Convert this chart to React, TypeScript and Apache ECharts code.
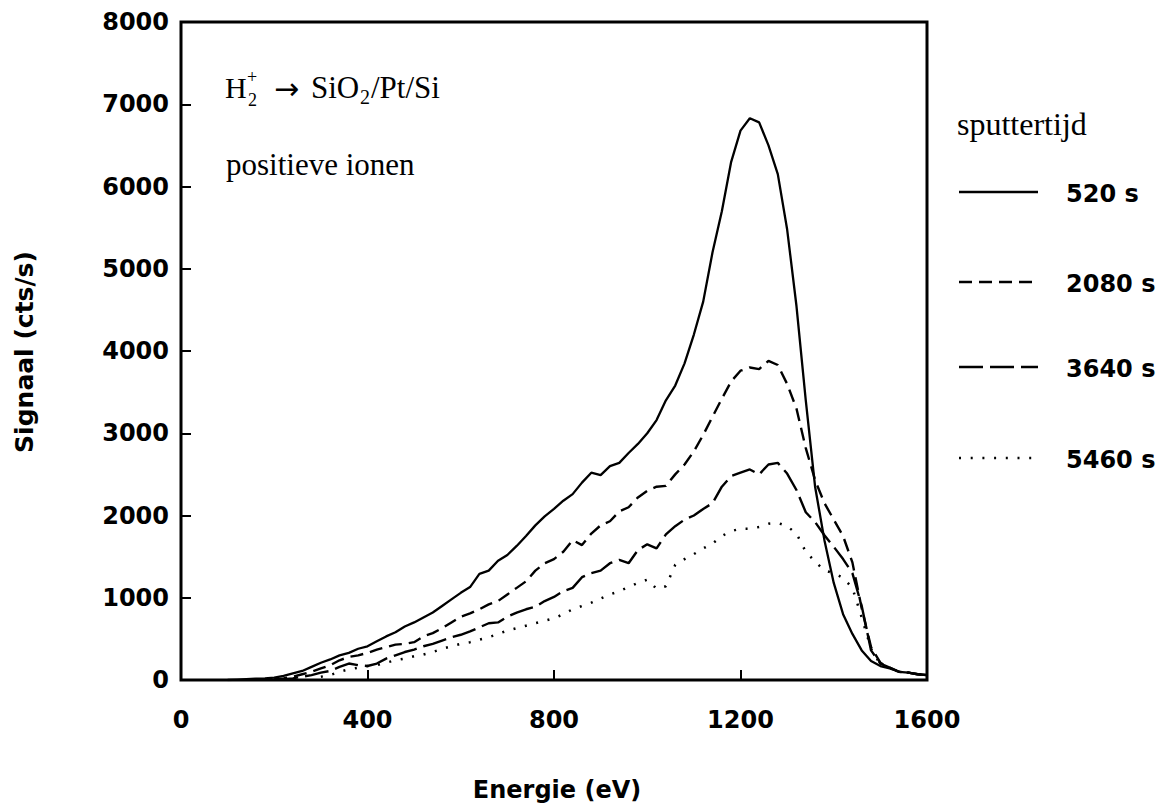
import React, { useEffect, useRef } from "react";
import * as echarts from "echarts";

const energies = [
  100, 120, 140, 160, 180, 200, 220, 240, 260, 280,
  300, 320, 340, 360, 380, 400, 420, 440, 460, 480,
  500, 520, 540, 560, 580, 600, 620, 640, 660, 680,
  700, 720, 740, 760, 780, 800, 820, 840, 860, 880,
  900, 920, 940, 960, 980, 1000, 1020, 1040, 1060, 1080,
  1100, 1120, 1140, 1160, 1180, 1200, 1220, 1240, 1260, 1280,
  1300, 1320, 1340, 1360, 1380, 1400, 1420, 1440, 1460, 1480,
  1500, 1520, 1540, 1560, 1580, 1600,
];

const s520 = [
  0, 5, 10, 15, 20, 30, 50, 80, 110, 160,
  210, 250, 300, 330, 380, 410, 470, 530, 580, 650,
  700, 760, 820, 900, 980, 1060, 1130, 1290, 1330, 1450,
  1520, 1630, 1750, 1880, 1990, 2080, 2180, 2260, 2400, 2520,
  2490, 2600, 2640, 2760, 2870, 3000, 3160, 3400, 3580, 3850,
  4200, 4600, 5200, 5700, 6300, 6680, 6830, 6780, 6500, 6150,
  5480, 4550, 3400, 2350, 1700, 1180, 800, 560, 360, 230,
  170, 140, 100, 90, 70, 60,
];

const s2080 = [
  null, null, null, null, null, 10, 20, 40, 70, 100,
  140, 180, 240, 280, 300, 330, 370, 400, 430, 440,
  460, 530, 570, 630, 700, 770, 810, 860, 920, 960,
  1040, 1120, 1200, 1330, 1420, 1470, 1560, 1700, 1640, 1780,
  1880, 1930, 2050, 2100, 2220, 2300, 2350, 2360, 2500, 2620,
  2780, 2980, 3200, 3420, 3630, 3760, 3800, 3780, 3880, 3830,
  3600, 3300, 2820, 2430, 2150, 1950, 1750, 1430, 870, 400,
  210, 150, 100, 90, 70, 60,
];

const s3640 = [
  null, null, null, null, null, 5, 10, 20, 40, 60,
  90, 110, 160, 200, 180, 170, 200, 260, 300, 340,
  370, 410, 440, 480, 520, 550, 590, 640, 690, 700,
  770, 820, 860, 890, 960, 1010, 1080, 1120, 1250, 1300,
  1330, 1420, 1460, 1420, 1580, 1650, 1600, 1770, 1870, 1950,
  2000, 2080, 2150, 2350, 2480, 2520, 2560, 2500, 2620, 2640,
  2510, 2310, 2040, 1920, 1760, 1620, 1470, 1300, 900, 360,
  200, 150, 100, 90, 70, 60,
];

const s5460 = [
  null, null, null, null, null, null, null, null, null, null,
  40, 60, 100, 130, 150, 170, 180, 210, 240, 260,
  290, 310, 340, 380, 410, 440, 460, 490, 520, 560,
  600, 630, 660, 690, 720, 750, 800, 860, 900, 940,
  990, 1040, 1080, 1130, 1180, 1220, 1110, 1140, 1400, 1470,
  1530, 1600, 1660, 1750, 1810, 1840, 1840, 1860, 1900, 1910,
  1870, 1780, 1560, 1440, 1330, 1300, 1240, 1120, 760, 380,
  190, 140, 100, 90, 70, 60,
];

const seriesNames = ["520 s", "2080 s", "3640 s", "5460 s"];
const seriesValues = [s520, s2080, s3640, s5460];
const dashes: (string | number[])[] = ["solid", [13, 7], [24, 7], [2, 9.7]];
const widths = [2.3, 2.4, 2.4, 2.5];
const legendY = [192, 282, 367, 458];

const SANS = "DejaVu Sans";
const SERIF = "Liberation Serif";

export default function App() {
  const ref = useRef<HTMLDivElement>(null);
  useEffect(() => {
    if (!ref.current) return;
    const chart = echarts.init(ref.current, undefined, { renderer: "svg" });

    const series = seriesValues.map((vals, k) => ({
      name: seriesNames[k],
      type: "line",
      data: energies.map((e, i) => [e, vals[i]]),
      showSymbol: false,
      connectNulls: false,
      lineStyle: { color: "#000", width: widths[k], type: dashes[k] },
      z: 3,
    }));

    const legendGraphics: any[] = [];
    seriesNames.forEach((n, k) => {
      legendGraphics.push({
        type: "line",
        shape: { x1: 959, y1: legendY[k], x2: 1038, y2: legendY[k] },
        style: {
          stroke: "#000",
          lineWidth: widths[k],
          lineDash: typeof dashes[k] === "string" ? null : dashes[k],
        },
      });
      legendGraphics.push({
        type: "text",
        x: 1066,
        y: legendY[k] + 2,
        style: {
          text: n,
          fontFamily: SANS,
          fontWeight: "bold",
          fontSize: 24,
          fill: "#000",
          align: "left",
          verticalAlign: "middle",
        },
      });
    });

    const serifText = (text: string, x: number, y: number, size: number, family = SERIF) => ({
      type: "text",
      x,
      y,
      style: {
        text,
        fontFamily: family,
        fontSize: size,
        fill: "#000",
        align: "left",
        verticalAlign: "middle",
      },
    });

    const plain = (v: number) => String(v);

    chart.setOption({
      animation: false,
      backgroundColor: "#fff",
      grid: {
        left: 181,
        top: 22,
        width: 746,
        height: 658,
        show: true,
        borderColor: "#000",
        borderWidth: 3,
        backgroundColor: "transparent",
      },
      xAxis: {
        type: "value",
        min: 0,
        max: 1600,
        interval: 400,
        axisLine: { show: false },
        axisTick: { show: true, inside: true, length: 10, lineStyle: { color: "#000", width: 2 } },
        axisLabel: {
          margin: 28,
          color: "#000",
          fontFamily: SANS,
          fontWeight: "bold",
          fontSize: 24,
          formatter: plain,
        },
        splitLine: { show: false },
      },
      yAxis: {
        type: "value",
        min: 0,
        max: 8000,
        interval: 1000,
        axisLine: { show: false },
        axisTick: { show: true, inside: true, length: 10, lineStyle: { color: "#000", width: 2 } },
        axisLabel: {
          margin: 12,
          color: "#000",
          fontFamily: SANS,
          fontWeight: "bold",
          fontSize: 24,
          formatter: plain,
        },
        splitLine: { show: false },
      },
      series,
      graphic: [
        {
          type: "text",
          x: 24,
          y: 352,
          rotation: Math.PI / 2,
          style: {
            text: "Signaal (cts/s)",
            fontFamily: SANS,
            fontWeight: "bold",
            fontSize: 25,
            fill: "#000",
            align: "center",
            verticalAlign: "middle",
          },
        },
        {
          type: "text",
          x: 557,
          y: 790,
          style: {
            text: "Energie (eV)",
            fontFamily: SANS,
            fontWeight: "bold",
            fontSize: 24,
            fill: "#000",
            align: "center",
            verticalAlign: "middle",
          },
        },
        serifText("H", 225, 87, 30),
        serifText("+", 247, 77, 18),
        serifText("2", 248, 100, 18),
        serifText("→", 274, 88, 30, "DejaVu Sans"),
        serifText("SiO", 311, 87, 31),
        serifText("2", 360, 97, 20),
        serifText("/Pt/Si", 371, 87, 31),
        serifText("positieve ionen", 226, 164, 31),
        serifText("sputtertijd", 957, 124, 32),
        ...legendGraphics,
      ],
    });
    return () => chart.dispose();
  }, []);
  return (
    <div
      ref={ref}
      style={{ position: "fixed", left: 0, top: 0, width: 1165, height: 809, background: "#fff" }}
    />
  );
}
